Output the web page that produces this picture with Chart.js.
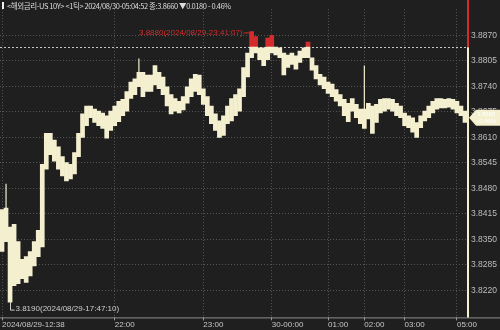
<!DOCTYPE html>
<html>
<head>
<meta charset="utf-8">
<script src="https://cdn.jsdelivr.net/npm/chart.js@4.4.1/dist/chart.umd.min.js"></script>
<style>
  html, body { margin:0; padding:0; background:#1f1f1f; }
  #wrap { position:relative; width:500px; height:330px; }
  #head { position:absolute; left:2px; top:0; font:7.5px "Noto Sans CJK KR", sans-serif; letter-spacing:-0.4px; color:#dcdcdc; white-space:nowrap; line-height:11px; }
  #head b { display:inline-block; width:2px; height:7px; background:#eee; margin-right:3px; }
</style>
</head>
<body>
<div id="wrap">
  <canvas id="chart" width="500" height="330"></canvas>
  <div id="head"><b></b>&lt;해외금리-US 10Y&gt; &lt;1틱&gt; 2024/08/30-05:04:52 종:3.8660 ▼0.0180 - 0.46%</div>
</div>
<script>
// tick band, one column per ~4px: low / high of each column
const low = [3.8319,3.8344,3.8190,3.8232,3.8237,3.8250,3.8240,3.8257,3.8282,3.8306,
  3.8331,3.8529,3.8566,3.8549,3.8529,3.8512,3.8499,3.8504,3.8517,3.8561,
  3.8610,3.8640,3.8660,3.8648,3.8640,3.8633,3.8608,3.8628,3.8640,3.8650,
  3.8665,3.8677,3.8709,3.8719,3.8739,3.8714,3.8727,3.8727,3.8744,3.8734,
  3.8719,3.8690,3.8670,3.8677,3.8672,3.8680,3.8697,3.8714,3.8727,3.8719,
  3.8694,3.8665,3.8645,3.8628,3.8610,3.8615,3.8645,3.8652,3.8665,3.8677,
  3.8714,3.8764,3.8813,3.8825,3.8808,3.8793,3.8808,3.8825,3.8820,3.8813,
  3.8769,3.8788,3.8796,3.8784,3.8801,3.8813,3.8813,3.8781,3.8759,3.8744,
  3.8734,3.8722,3.8714,3.8702,3.8690,3.8665,3.8650,3.8677,3.8660,3.8645,
  3.8633,3.8657,3.8620,3.8648,3.8672,3.8677,3.8682,3.8677,3.8665,3.8660,
  3.8640,3.8635,3.8623,3.8610,3.8635,3.8652,3.8660,3.8672,3.8682,3.8685,
  3.8685,3.8687,3.8682,3.8672,3.8665,3.8648];
const high = [3.8426,3.8430,3.8381,3.8388,3.8344,3.8299,3.8306,3.8319,3.8344,3.8373,
  3.8541,3.8620,3.8620,3.8603,3.8586,3.8561,3.8546,3.8541,3.8571,3.8620,
  3.8670,3.8690,3.8690,3.8682,3.8677,3.8672,3.8665,3.8677,3.8690,3.8702,
  3.8707,3.8727,3.8751,3.8759,3.8776,3.8776,3.8769,3.8769,3.8793,3.8776,
  3.8764,3.8739,3.8719,3.8709,3.8702,3.8714,3.8739,3.8759,3.8771,3.8769,
  3.8734,3.8714,3.8690,3.8670,3.8652,3.8665,3.8690,3.8709,3.8719,3.8734,
  3.8788,3.8825,3.8880,3.8867,3.8838,3.8838,3.8863,3.8870,3.8840,3.8838,
  3.8825,3.8820,3.8825,3.8818,3.8830,3.8838,3.8853,3.8813,3.8793,3.8771,
  3.8764,3.8751,3.8746,3.8732,3.8719,3.8707,3.8697,3.8709,3.8694,3.8682,
  3.8682,3.8697,3.8690,3.8694,3.8707,3.8709,3.8709,3.8707,3.8697,3.8690,
  3.8672,3.8665,3.8660,3.8648,3.8665,3.8677,3.8690,3.8702,3.8709,3.8709,
  3.8707,3.8709,3.8707,3.8702,3.8690,3.8677];
// single thin ticks sticking out of the band
const spikeIdx = [1, 34, 90];
const spikeHigh = [3.8492, 3.8811, 3.8793];

const prevClose = 3.8840;
const lastPrice = 3.8660;
const lastChange = '-0.46%';
const yTicks = [3.8220,3.8285,3.8350,3.8415,3.8480,3.8545,3.8610,3.8675,3.8740,3.8805,3.8870];
const tickIdx = [0, 28, 50, 67, 81, 90, 100, 113];
const tickText = ['2024/08/29-12:38','22:00','23:00','30-00:00','01:00','02:00','03:00','05:00'];
const maxLabel = '3.8880(2024/08/29-23:41:07)';
const minLabel = '3.8190(2024/08/29-17:47:10)';

const CREAM = '#f3efcf', RED = '#d42c2c', GRID = '#555555';
const FONT = '"Liberation Sans Narrow", "Liberation Sans", sans-serif';

const labels = low.map((v, i) => {
  const k = tickIdx.indexOf(i);
  return k >= 0 ? tickText[k] : '';
});
const creamBars = low.map((v, i) => v >= prevClose ? null : [v, Math.min(high[i], prevClose)]);
const redBars = high.map((v, i) => v > prevClose ? [Math.max(low[i], prevClose), v] : null);
const spikeBars = low.map((v, i) => {
  const k = spikeIdx.indexOf(i);
  return k >= 0 ? [high[i], spikeHigh[k]] : null;
});

const extras = {
  id: 'extras',
  beforeDatasetsDraw(chart) {
    const {ctx, chartArea: a, scales: {y}} = chart;
    const yc = Math.round(y.getPixelForValue(prevClose)) + 0.5;
    ctx.save();
    ctx.strokeStyle = '#c8c8c8';
    ctx.lineWidth = 1;
    ctx.setLineDash([2, 2]);
    ctx.beginPath(); ctx.moveTo(a.left, yc); ctx.lineTo(a.right, yc); ctx.stroke();
    ctx.restore();
  },
  afterDatasetsDraw(chart) {
    const {ctx, chartArea: a, scales: {x, y}} = chart;
    const yc = y.getPixelForValue(prevClose);
    ctx.save();
    // bottom axis line across whole width
    ctx.strokeStyle = '#8c8c8c';
    ctx.lineWidth = 1;
    ctx.beginPath(); ctx.moveTo(0, a.bottom + 0.5); ctx.lineTo(chart.width, a.bottom + 0.5); ctx.stroke();
    // right edge line
    const xr = Math.round(a.right) + 1;
    ctx.lineWidth = 2;
    ctx.strokeStyle = RED;
    ctx.beginPath(); ctx.moveTo(xr, 0); ctx.lineTo(xr, yc); ctx.stroke();
    ctx.strokeStyle = CREAM;
    ctx.beginPath(); ctx.moveTo(xr, yc); ctx.lineTo(xr, a.bottom); ctx.stroke();

    ctx.font = '8px ' + FONT;
    ctx.textBaseline = 'middle';
    // max label
    const iMax = high.indexOf(Math.max(...high));
    const mx = x.getPixelForValue(iMax), my = y.getPixelForValue(high[iMax]);
    ctx.fillStyle = RED; ctx.strokeStyle = RED; ctx.lineWidth = 1;
    ctx.textAlign = 'right';
    ctx.fillText(maxLabel, mx - 9, my + 1);
    ctx.beginPath(); ctx.moveTo(mx - 8, my + 1.5); ctx.lineTo(mx - 2, my + 1.5); ctx.stroke();
    // min label
    const iMin = low.indexOf(Math.min(...low));
    const nx = Math.round(x.getPixelForValue(iMin)) + 0.5, ny = y.getPixelForValue(low[iMin]);
    ctx.strokeStyle = '#cfcfcf'; ctx.fillStyle = '#cfcfcf';
    ctx.beginPath(); ctx.moveTo(nx, ny); ctx.lineTo(nx, ny + 8); ctx.lineTo(nx + 4, ny + 8); ctx.stroke();
    ctx.textAlign = 'left';
    ctx.fillText(minLabel, nx + 5, ny + 7);
    // last price box
    const ly = y.getPixelForValue(lastPrice);
    ctx.fillStyle = CREAM;
    ctx.beginPath();
    ctx.moveTo(xr + 1, ly);
    ctx.lineTo(xr + 8, ly - 8);
    ctx.lineTo(chart.width, ly - 8);
    ctx.lineTo(chart.width, ly + 8);
    ctx.lineTo(xr + 8, ly + 8);
    ctx.closePath();
    ctx.fill();
    ctx.fillStyle = '#ffffff';
    ctx.font = '6px ' + FONT;
    ctx.fillText(lastPrice.toFixed(4), xr + 9, ly - 3.5);
    ctx.fillText(lastChange, xr + 9, ly + 3.5);
    ctx.restore();
  }
};

new Chart(document.getElementById('chart'), {
  type: 'bar',
  data: {
    labels: labels,
    datasets: [
      {data: creamBars, backgroundColor: CREAM, grouped: false, barPercentage: 1, categoryPercentage: 1, borderWidth: 0},
      {data: redBars, backgroundColor: RED, grouped: false, barPercentage: 1, categoryPercentage: 1, borderWidth: 0},
      {data: spikeBars, backgroundColor: CREAM, grouped: false, barPercentage: 0.3, categoryPercentage: 1, borderWidth: 0}
    ]
  },
  options: {
    responsive: false,
    animation: false,
    layout: {padding: 0},
    plugins: {legend: {display: false}, tooltip: {enabled: false}},
    scales: {
      x: {
        border: {display: false, dash: [1, 2]},
        grid: {
          offset: false,
          color: c => labels[c.index] ? GRID : 'transparent',
          tickColor: c => labels[c.index] ? '#9a9a9a' : 'transparent',
          tickBorderDash: [],
          tickLength: 3
        },
        ticks: {
          autoSkip: false, maxRotation: 0, minRotation: 0, align: 'start', padding: 0,
          color: '#c8c8c8', font: {size: 8, family: FONT},
          callback: (v, i) => labels[i]
        }
      },
      y: {
        position: 'right',
        min: 3.8151,
        max: 3.8937,
        border: {display: false, dash: [1, 2]},
        grid: {color: GRID, drawTicks: false},
        afterBuildTicks: s => { s.ticks = yTicks.map(v => ({value: v})); },
        afterFit: s => { s.width = 33; },
        ticks: {
          padding: 4, color: '#bdbdbd', font: {size: 8.5, family: FONT},
          callback: v => v.toFixed(4)
        }
      }
    }
  },
  plugins: [extras]
});
</script>
</body>
</html>
